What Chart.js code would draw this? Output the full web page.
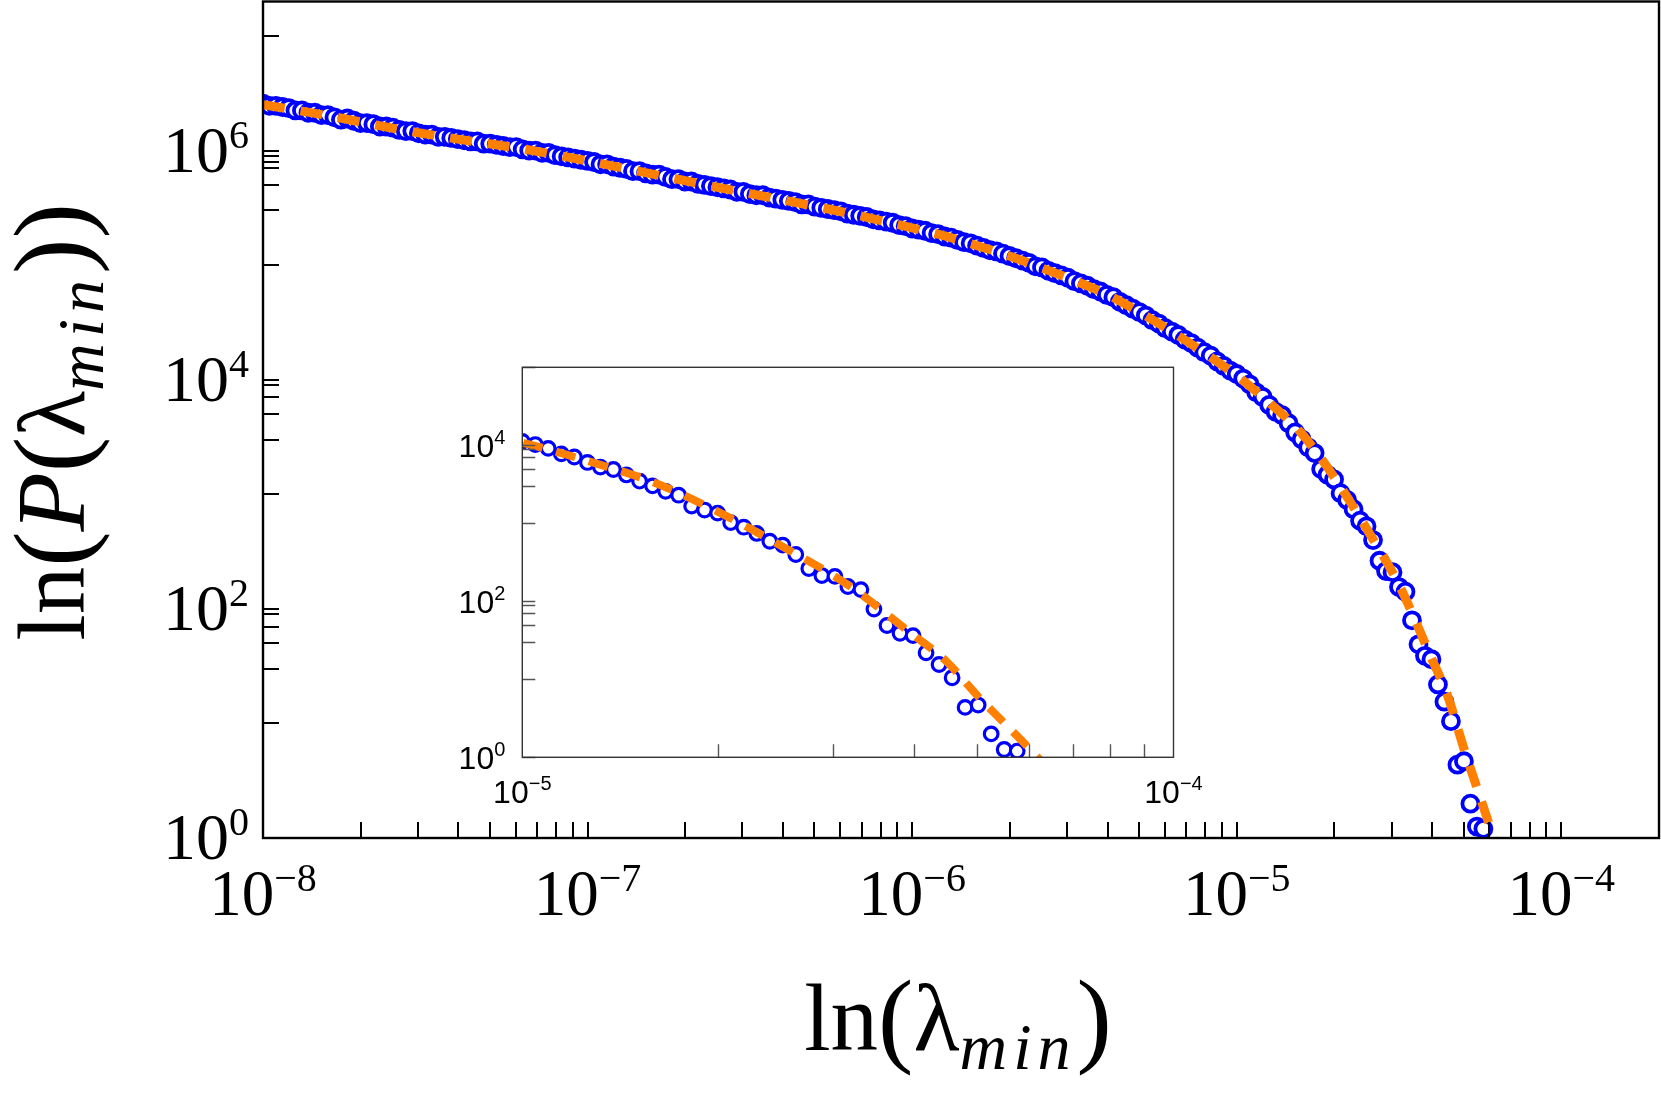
<!DOCTYPE html>
<html><head><meta charset="utf-8">
<script src="https://cdn.jsdelivr.net/npm/chart.js@4.4.1/dist/chart.umd.min.js"></script>
<style>
html,body{margin:0;padding:0;background:#fff;}
#wrap{position:relative;width:1661px;height:1094px;overflow:hidden;background:#fff;}
#main{position:absolute;left:0;top:0;}
#inset{position:absolute;left:440px;top:330px;}
</style></head><body>
<div id="wrap"><canvas id="main" width="1661" height="1094"></canvas><canvas id="inset" width="780" height="500"></canvas></div>
<script>
// ---- data ----
const lambdaMin = [
1.000e-8,1.047e-8,1.096e-8,1.148e-8,1.202e-8,1.259e-8,1.318e-8,1.380e-8,1.445e-8,1.514e-8,
1.585e-8,1.660e-8,1.738e-8,1.820e-8,1.905e-8,1.995e-8,2.089e-8,2.188e-8,2.291e-8,2.399e-8,
2.512e-8,2.630e-8,2.754e-8,2.884e-8,3.020e-8,3.162e-8,3.311e-8,3.467e-8,3.631e-8,3.802e-8,
3.981e-8,4.169e-8,4.365e-8,4.571e-8,4.786e-8,5.012e-8,5.248e-8,5.495e-8,5.754e-8,6.026e-8,
6.310e-8,6.607e-8,6.918e-8,7.244e-8,7.586e-8,7.943e-8,8.318e-8,8.710e-8,9.120e-8,9.550e-8,
1.000e-7,1.047e-7,1.096e-7,1.148e-7,1.202e-7,1.259e-7,1.318e-7,1.380e-7,1.445e-7,1.514e-7,
1.585e-7,1.660e-7,1.738e-7,1.820e-7,1.905e-7,1.995e-7,2.089e-7,2.188e-7,2.291e-7,2.399e-7,
2.512e-7,2.630e-7,2.754e-7,2.884e-7,3.020e-7,3.162e-7,3.311e-7,3.467e-7,3.631e-7,3.802e-7,
3.981e-7,4.169e-7,4.365e-7,4.571e-7,4.786e-7,5.012e-7,5.248e-7,5.495e-7,5.754e-7,6.026e-7,
6.310e-7,6.607e-7,6.918e-7,7.244e-7,7.586e-7,7.943e-7,8.318e-7,8.710e-7,9.120e-7,9.550e-7,
1.000e-6,1.047e-6,1.096e-6,1.148e-6,1.202e-6,1.259e-6,1.318e-6,1.380e-6,1.445e-6,1.514e-6,
1.585e-6,1.660e-6,1.738e-6,1.820e-6,1.905e-6,1.995e-6,2.089e-6,2.188e-6,2.291e-6,2.399e-6,
2.512e-6,2.630e-6,2.754e-6,2.884e-6,3.020e-6,3.162e-6,3.311e-6,3.467e-6,3.631e-6,3.802e-6,
3.981e-6,4.169e-6,4.365e-6,4.571e-6,4.786e-6,5.012e-6,5.248e-6,5.495e-6,5.754e-6,6.026e-6,
6.310e-6,6.607e-6,6.918e-6,7.244e-6,7.586e-6,7.943e-6,8.318e-6,8.710e-6,9.120e-6,9.550e-6,
1.000e-5,1.047e-5,1.096e-5,1.148e-5,1.202e-5,1.259e-5,1.318e-5,1.380e-5,1.445e-5,1.514e-5,
1.585e-5,1.660e-5,1.738e-5,1.820e-5,1.905e-5,1.995e-5,2.089e-5,2.188e-5,2.291e-5,2.399e-5,
2.512e-5,2.630e-5,2.754e-5,2.884e-5,3.020e-5,3.162e-5,3.311e-5,3.467e-5,3.631e-5,3.802e-5,
3.981e-5,4.169e-5,4.365e-5,4.571e-5,4.786e-5,5.012e-5,5.248e-5,5.495e-5,5.754e-5
];
const probability = [
2.570e6,2.455e6,2.455e6,2.399e6,2.344e6,2.239e6,2.239e6,2.138e6,2.138e6,2.042e6,
2.042e6,1.950e6,1.862e6,1.905e6,1.820e6,1.738e6,1.738e6,1.698e6,1.622e6,1.622e6,
1.585e6,1.514e6,1.479e6,1.479e6,1.413e6,1.380e6,1.380e6,1.318e6,1.318e6,1.288e6,
1.259e6,1.230e6,1.202e6,1.202e6,1.148e6,1.148e6,1.122e6,1.096e6,1.072e6,1.072e6,
1.023e6,1.000e6,1.000e6,9.550e5,9.550e5,9.120e5,8.913e5,8.710e5,8.511e5,8.318e5,
8.128e5,7.943e5,7.586e5,7.586e5,7.244e5,7.079e5,6.918e5,6.607e5,6.607e5,6.310e5,
6.166e5,6.166e5,5.888e5,5.623e5,5.623e5,5.370e5,5.370e5,5.129e5,5.012e5,4.898e5,
4.786e5,4.677e5,4.571e5,4.365e5,4.365e5,4.169e5,4.074e5,4.074e5,3.890e5,3.802e5,
3.715e5,3.631e5,3.548e5,3.388e5,3.388e5,3.236e5,3.162e5,3.090e5,3.020e5,2.951e5,
2.818e5,2.754e5,2.692e5,2.630e5,2.512e5,2.455e5,2.399e5,2.344e5,2.239e5,2.188e5,
2.089e5,2.042e5,1.995e5,1.905e5,1.862e5,1.778e5,1.738e5,1.660e5,1.585e5,1.549e5,
1.479e5,1.413e5,1.349e5,1.318e5,1.259e5,1.202e5,1.148e5,1.096e5,1.047e5,9.772e4,
9.550e4,8.913e4,8.511e4,8.128e4,7.762e4,7.244e4,6.918e4,6.607e4,6.166e4,5.888e4,
5.495e4,5.248e4,4.786e4,4.467e4,4.169e4,3.890e4,3.631e4,3.311e4,3.090e4,2.818e4,
2.630e4,2.455e4,2.239e4,2.089e4,1.905e4,1.738e4,1.622e4,1.445e4,1.318e4,1.202e4,
1.122e4,1.023e4,9.120e3,7.762e3,7.079e3,6.026e3,5.248e3,4.898e3,4.169e3,3.467e3,
3.020e3,2.570e3,2.291e3,1.660e3,1.479e3,1.349e3,1.023e3,891.3,741.3,588.8,
524.8,398.1,263.0,213.8,208.9,154.9,141.3,79.43,48.98,38.90,
36.31,21.88,15.49,10.47,4.365,4.677,1.995,1.259,1.202
];
const fitLambda = [
1.000e-8,1.585e-8,2.512e-8,3.981e-8,6.310e-8,1.000e-7,1.585e-7,2.512e-7,3.981e-7,6.310e-7,
1.000e-6,1.259e-6,1.585e-6,1.995e-6,2.512e-6,3.162e-6,3.981e-6,5.012e-6,6.310e-6,7.943e-6,
1.000e-5,1.259e-5,1.585e-5,1.995e-5,2.512e-5,3.162e-5,3.981e-5,4.467e-5,5.012e-5,5.495e-5,
6.026e-5,6.457e-5
];
const fitProbability = [
2.512e6,2.018e6,1.567e6,1.259e6,1.035e6,8.128e5,6.237e5,4.786e5,3.715e5,2.851e5,
2.113e5,1.799e5,1.479e5,1.202e5,9.441e4,7.328e4,5.559e4,3.890e4,2.630e4,1.718e4,
1.084e4,6.310e3,3.388e3,1.413e3,501.2,162.2,37.15,17.38,6.026,2.754,
1.259,0.676
];

// ---- ticks and tick labels ----
const mainXDecades = [-8,-7,-6,-5,-4];
const minorMantissas = [1,2,3,4,5,6,7,8,9];
const mainXLabelValues = [1e-8,1e-7,1e-6,1e-5,1e-4];
const mainXLabelExps = ['\u22128','\u22127','\u22126','\u22125','\u22124'];
const mainYTicks = [1,10,30,50,70,90,100,1e3,3e3,5e3,7e3,9e3,1e4,1e5,3e5,5e5,7e5,8e5,9e5,1e6,1e7];
const mainYLabelValues = [1,1e2,1e4,1e6];
const mainYLabelExps = ['0','2','4','6'];
const insetXTicks = [2e-5,3e-5,4e-5,5e-5,6e-5,7e-5,8e-5,9e-5];
const insetXLabelValues = [1e-5,1e-4];
const insetXLabelExps = ['\u22125','\u22124'];
const insetYTicks = [1,10,30,50,70,90,100,1e3,3e3,5e3,7e3,9e3,1e4,1e5];
const insetYLabelValues = [1,1e2,1e4];
const insetYLabelExps = ['0','2','4'];

const BLUE = 'rgb(0,0,255)';
const ORANGE = 'rgb(255,128,0)';
const SERIF = '"Liberation Serif", "Times New Roman", serif';
const SANS = '"Liberation Sans", Arial, sans-serif';

const points = lambdaMin.map((v,i)=>({x:v,y:probability[i]}));
const fitPoints = fitLambda.map((v,i)=>({x:v,y:fitProbability[i]}));

function drawRich(ctx, segs, x, y, align){
  let total = 0;
  segs.forEach(s=>{ ctx.font = s.font; ctx.letterSpacing = s.ls || '0px'; s.w = ctx.measureText(s.t).width; total += s.w; });
  let cx = align==='center' ? x - total/2 : (align==='right' ? x - total : x);
  segs.forEach(s=>{ ctx.font = s.font; ctx.letterSpacing = s.ls || '0px'; ctx.fillText(s.t, cx, y + (s.dy||0)); cx += s.w; });
  ctx.letterSpacing = '0px';
}

const mainDecor = {
  id:'mainDecor',
  afterDatasetsDraw(chart){
    const {ctx, chartArea:a, scales:{x,y}} = chart;
    ctx.save();
    ctx.strokeStyle = '#000'; ctx.lineWidth = 2;
    ctx.beginPath();
    mainXDecades.forEach(d=>minorMantissas.forEach(m=>{
      const v = m*Math.pow(10,d);
      if (v < 1e-8 || v > 2e-4) return;
      const px = Math.round(x.getPixelForValue(v));
      ctx.moveTo(px, a.bottom); ctx.lineTo(px, a.bottom-16);
    }));
    mainYTicks.forEach(v=>{
      const py = Math.round(y.getPixelForValue(v));
      ctx.moveTo(a.left, py); ctx.lineTo(a.left+16, py);
    });
    ctx.stroke();
    ctx.lineWidth = 2.4;
    ctx.strokeRect(a.left, a.top, a.right-a.left, a.bottom-a.top);
    ctx.restore();
  },
  afterDraw(chart){
    const {ctx, chartArea:a, scales:{x,y}} = chart;
    ctx.save();
    ctx.fillStyle = '#000'; ctx.textBaseline = 'alphabetic'; ctx.textAlign = 'left';
    mainXLabelValues.forEach((v,i)=>{
      drawRich(ctx, [{t:'10', font:'65px '+SERIF},{t:mainXLabelExps[i], font:'40px '+SERIF, dy:-24}],
        x.getPixelForValue(v), a.bottom+77, 'center');
    });
    mainYLabelValues.forEach((v,i)=>{
      drawRich(ctx, [{t:'10', font:'66px '+SERIF},{t:mainYLabelExps[i], font:'40px '+SERIF, dy:-24}],
        a.left-14, y.getPixelForValue(v)+21, 'right');
    });
    const P_OPEN = {t:'(', font:'106px '+SERIF, dy:3};
    const P_CLOSE = {t:')', font:'106px '+SERIF, dy:3};
    // x title
    drawRich(ctx, [
      {t:'ln', font:'95px '+SERIF},
      P_OPEN,
      {t:'\u03bb', font:'95px '+SERIF},
      {t:'min', font:'italic 66px '+SERIF, dy:19, ls:'6px'},
      P_CLOSE
    ], (a.left+a.right)/2-3, 1050, 'center');
    // y title
    ctx.translate(84, 422);
    ctx.rotate(-Math.PI/2);
    drawRich(ctx, [
      {t:'ln', font:'95px '+SERIF},
      Object.assign({}, P_OPEN),
      {t:'P', font:'italic 97px '+SERIF},
      Object.assign({}, P_OPEN),
      {t:'\u03bb', font:'95px '+SERIF},
      {t:'min', font:'italic 66px '+SERIF, dy:19, ls:'6px'},
      Object.assign({}, P_CLOSE),
      Object.assign({}, P_CLOSE)
    ], 0, 0, 'center');
    ctx.restore();
  }
};

const insetDecor = {
  id:'insetDecor',
  beforeDatasetsDraw(chart){
    const {ctx, chartArea:a} = chart;
    ctx.save(); ctx.fillStyle = '#fff';
    ctx.fillRect(a.left, a.top, a.right-a.left, a.bottom-a.top);
    ctx.restore();
  },
  afterDatasetsDraw(chart){
    const {ctx, chartArea:a, scales:{x,y}} = chart;
    ctx.save();
    ctx.strokeStyle = '#555'; ctx.lineWidth = 1.4;
    ctx.beginPath();
    insetXTicks.forEach(v=>{
      const px = Math.round(x.getPixelForValue(v))+0.5;
      ctx.moveTo(px, a.bottom); ctx.lineTo(px, a.bottom-13);
    });
    insetYTicks.forEach(v=>{
      const py = Math.round(y.getPixelForValue(v))+0.5;
      ctx.moveTo(a.left, py); ctx.lineTo(a.left+13, py);
    });
    ctx.stroke();
    ctx.strokeStyle = '#333'; ctx.lineWidth = 1.4;
    ctx.strokeRect(a.left, a.top, a.right-a.left, a.bottom-a.top);
    ctx.fillStyle = '#000'; ctx.textBaseline = 'alphabetic'; ctx.textAlign = 'left';
    insetXLabelValues.forEach((v,i)=>{
      drawRich(ctx, [{t:'10', font:'32px '+SANS},{t:insetXLabelExps[i], font:'20px '+SANS, dy:-13}],
        x.getPixelForValue(v), a.bottom+46, 'center');
    });
    insetYLabelValues.forEach((v,i)=>{
      drawRich(ctx, [{t:'10', font:'32px '+SANS},{t:insetYLabelExps[i], font:'20px '+SANS, dy:-13}],
        a.left-17, y.getPixelForValue(v)+12, 'right');
    });
    ctx.restore();
  }
};

function makeDatasets(r, bw, lw, dash){
  return [
    {type:'line', label:'fit', data:fitPoints, borderColor:ORANGE, borderWidth:lw, borderDash:dash,
     pointRadius:0, fill:false, cubicInterpolationMode:'monotone', clip:0, order:0},
    {type:'scatter', label:'data', data:points, borderColor:BLUE, backgroundColor:'#fff',
     pointBorderColor:BLUE, pointBackgroundColor:'#fff',
     radius:r, pointRadius:r, borderWidth:bw, pointBorderWidth:bw, pointHoverRadius:r, showLine:false, clip:0, order:1}
  ];
}

const baseOpts = {
  responsive:false, animation:false, events:[], devicePixelRatio:1,
  plugins:{legend:{display:false}, tooltip:{enabled:false}}
};

new Chart(document.getElementById('main'), {
  type:'scatter',
  data:{datasets:makeDatasets(8, 3.8, 9, [22,16])},
  options:Object.assign({}, baseOpts, {
    layout:{autoPadding:false, padding:{left:263, top:1.5, right:2, bottom:256}},
    scales:{
      x:{type:'logarithmic', min:1e-8, max:2e-4, display:false},
      y:{type:'logarithmic', min:1, max:2e7, display:false}
    }
  }),
  plugins:[mainDecor]
});

new Chart(document.getElementById('inset'), {
  type:'scatter',
  data:{datasets:makeDatasets(6.8, 3.2, 8, [20,14])},
  options:Object.assign({}, baseOpts, {
    layout:{autoPadding:false, padding:{left:82.3, top:37.3, right:46.5, bottom:72.7}},
    scales:{
      x:{type:'logarithmic', min:1e-5, max:1e-4, display:false},
      y:{type:'logarithmic', min:1, max:1e5, display:false}
    }
  }),
  plugins:[insetDecor]
});
</script>
</body></html>
